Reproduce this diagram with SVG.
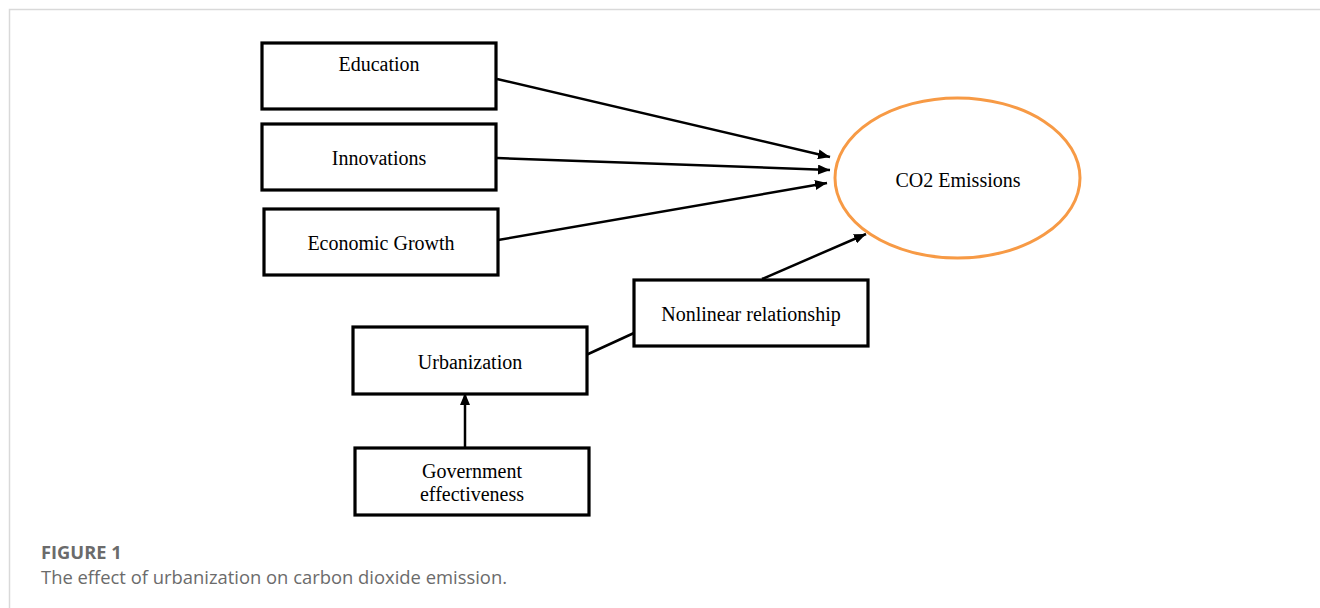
<svg xmlns="http://www.w3.org/2000/svg" width="1320" height="608" viewBox="0 0 1320 608">
<style>
.box{fill:#fff;stroke:#000;stroke-width:3.2}
.lbl{font-family:"Liberation Serif","Times New Roman",serif;font-size:20px;fill:#000;text-anchor:middle}
.edge{stroke:#000;stroke-width:2.5;fill:none}
.cap{font-family:"Open Sans","Noto Sans",sans-serif;fill:#6b6b6b}
</style>
<defs>
<marker id="ah" viewBox="0 0 12 10" refX="12" refY="5" markerWidth="12" markerHeight="10" markerUnits="userSpaceOnUse" orient="auto">
<path d="M0,0 L12,5 L0,10 z" fill="#000"/>
</marker>
</defs>
<rect x="9.5" y="9.5" width="1330" height="700" fill="#fff" stroke="#d9d9d9" stroke-width="1.5"/>
<g id="connectors">
<line class="edge" x1="497" y1="79" x2="830" y2="157" marker-end="url(#ah)"/>
<line class="edge" x1="497" y1="158" x2="830" y2="170" marker-end="url(#ah)"/>
<line class="edge" x1="498" y1="240" x2="827" y2="183" marker-end="url(#ah)"/>
<line class="edge" x1="762" y1="279" x2="866" y2="234" marker-end="url(#ah)"/>
<line class="edge" x1="586" y1="355" x2="634" y2="333"/>
<line class="edge" x1="465" y1="448" x2="465" y2="393" marker-end="url(#ah)"/>
</g>
<g id="education">
<rect class="box" x="262" y="43" width="234" height="66"/>
<text class="lbl" x="379" y="71">Education</text>
</g>
<g id="innovations">
<rect class="box" x="262" y="124" width="234" height="66"/>
<text class="lbl" x="379" y="165">Innovations</text>
</g>
<g id="economic-growth">
<rect class="box" x="264" y="209" width="234" height="66"/>
<text class="lbl" x="381" y="250">Economic Growth</text>
</g>
<g id="co2">
<ellipse cx="957.5" cy="178" rx="122.5" ry="80" fill="#fff" stroke="#f79a45" stroke-width="3"/>
<text class="lbl" x="958" y="187">CO2 Emissions</text>
</g>
<g id="nonlinear">
<rect class="box" x="634" y="280" width="234" height="66"/>
<text class="lbl" x="751" y="321">Nonlinear relationship</text>
</g>
<g id="urbanization">
<rect class="box" x="353" y="327" width="234" height="67"/>
<text class="lbl" x="470" y="369">Urbanization</text>
</g>
<g id="government">
<rect class="box" x="355" y="448" width="234" height="67"/>
<text class="lbl" x="472" y="478">Government</text>
<text class="lbl" x="472" y="501">effectiveness</text>
</g>
<g id="caption">
<text class="cap" x="41" y="559" font-size="18.3" font-weight="bold">FIGURE 1</text>
<text class="cap" x="41" y="584" font-size="18.4" fill="#777">The effect of urbanization on carbon dioxide emission.</text>
</g>
</svg>
